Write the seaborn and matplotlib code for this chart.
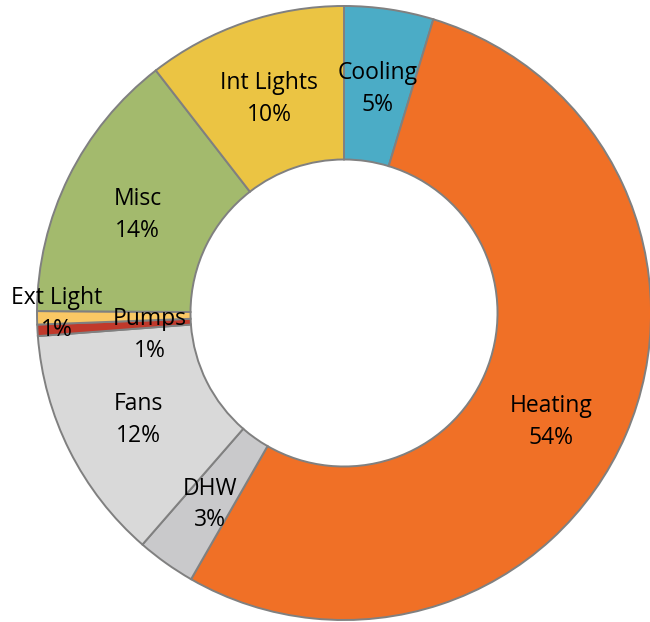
import numpy as np
import matplotlib
matplotlib.use("Agg")
import matplotlib.pyplot as plt
import seaborn as sns

# End-use energy breakdown (percent of total)
categories = ["Cooling", "Heating", "DHW", "Fans", "Pumps", "Ext Light", "Misc", "Int Lights"]
shares = [4.7, 53.6, 3.1, 12.4, 0.6, 0.7, 14.4, 10.5]
colors = ["#4BACC6", "#F07026", "#C9C9CB", "#D9D9D9", "#C0392B", "#FAC864", "#A3BA6D", "#EBC443"]

sns.set_theme(style="white")
plt.rcParams["font.family"] = ["Open Sans", "DejaVu Sans"]

fig = plt.figure(figsize=(6.5, 6.22), dpi=100)
ax = fig.add_axes([0, 0, 1, 1])
ax.axis("off")

ring_width = 0.5
wedges, _ = ax.pie(
    shares,
    colors=colors,
    startangle=90,
    counterclock=False,
    radius=1.0,
    wedgeprops=dict(width=ring_width, edgecolor="#808080", linewidth=1.4),
)

# Centre the ring in the canvas
ax.set_xlim(-1.1205, 0.9967)
ax.set_ylim(-1.0065, 1.0195)
ax.set_aspect("equal")

# Labels sit in the middle of the ring; a few are nudged by hand
manual = {
    "Ext Light": (-0.935, -0.003),
    "Pumps": (-0.632, -0.072),
    "Heating": (0.674, -0.355),
}
label_r = 1.0 - ring_width / 2
for w, name, val in zip(wedges, categories, shares):
    text = f"{name}\n{val:.0f}%"
    if name in manual:
        x, y = manual[name]
    else:
        ang = np.deg2rad((w.theta1 + w.theta2) / 2)
        x, y = label_r * np.cos(ang), label_r * np.sin(ang) - 0.013
    ax.text(x, y, text, ha="center", va="center", fontsize=16.5,
            color="black", linespacing=1.42)

fig.savefig("out.png", dpi=100)
